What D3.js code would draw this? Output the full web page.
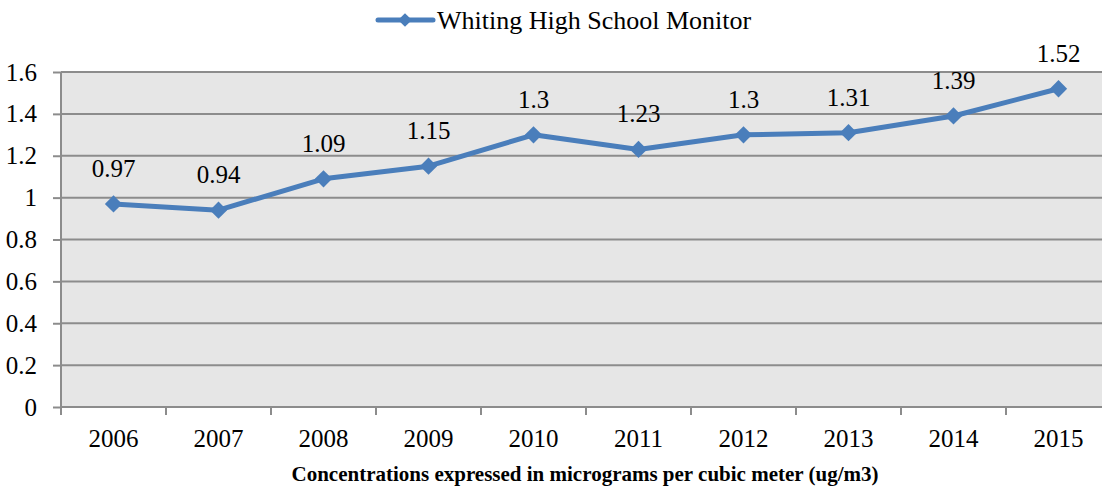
<!DOCTYPE html>
<html>
<head>
<meta charset="utf-8">
<script src="https://cdn.jsdelivr.net/npm/d3@7"></script>
<style>
  body { margin: 0; background: #ffffff; overflow: hidden; }
  text { font-family: "Liberation Serif", "Times New Roman", serif; fill: #000; }
</style>
</head>
<body>
<div id="chart"></div>
<script>
const years = ['2006', '2007', '2008', '2009', '2010', '2011', '2012', '2013', '2014', '2015'];
const values = [0.97, 0.94, 1.09, 1.15, 1.3, 1.23, 1.3, 1.31, 1.39, 1.52];
const yTicks = [0, 0.2, 0.4, 0.6, 0.8, 1, 1.2, 1.4, 1.6];
const seriesName = 'Whiting High School Monitor';
const xTitle = 'Concentrations expressed in micrograms per cubic meter (ug/m3)';

const W = 1102, H = 488;
// plot runs slightly past the right edge, as in the original
const margin = { top: 72, right: -9, bottom: 81, left: 61 };
const width = W - margin.left - margin.right;
const height = H - margin.top - margin.bottom;
const blue = '#4a7ebb';
const gridColor = '#8c8c8c';
const serif = '"Liberation Serif", "Times New Roman", serif';

const svg = d3.select('#chart').append('svg')
  .attr('width', W)
  .attr('height', H);

const g = svg.append('g')
  .attr('transform', 'translate(' + margin.left + ',' + margin.top + ')');

const x = d3.scaleBand().domain(years).range([0, width]);
const y = d3.scaleLinear().domain([0, 1.6]).range([height, 0]);

// plot background
g.append('rect')
  .attr('width', width)
  .attr('height', height)
  .attr('fill', '#e6e6e6');

// gridlines
g.selectAll('.grid')
  .data(yTicks.filter(d => d > 0))
  .enter()
  .append('line')
    .attr('x1', 0)
    .attr('x2', width)
    .attr('y1', d => y(d))
    .attr('y2', d => y(d))
    .attr('stroke', gridColor)
    .attr('stroke-width', 2);

// y axis
const yAxis = g.append('g')
  .call(d3.axisLeft(y).tickValues(yTicks).tickSize(8).tickPadding(16).tickFormat(d => String(d)));
yAxis.select('.domain').attr('stroke', gridColor).attr('stroke-width', 2).attr('d', 'M0,0V' + height);
yAxis.selectAll('.tick line').attr('stroke', gridColor).attr('stroke-width', 2);
yAxis.selectAll('.tick text')
  .style('font-family', serif)
  .style('font-size', '25px')
  .attr('fill', '#000');

// x axis
const xAxis = g.append('g')
  .attr('transform', 'translate(0,' + height + ')')
  .call(d3.axisBottom(x).tickSize(0).tickPadding(22));
xAxis.select('.domain').attr('stroke', gridColor).attr('stroke-width', 2).attr('d', 'M0,0H' + width);
xAxis.selectAll('.tick text')
  .style('font-family', serif)
  .style('font-size', '25px')
  .attr('fill', '#000');

// category boundary ticks
g.selectAll('.xtick')
  .data(years.concat(['end']))
  .enter()
  .append('line')
    .attr('x1', (d, i) => i * x.step())
    .attr('x2', (d, i) => i * x.step())
    .attr('y1', height)
    .attr('y2', height + 8)
    .attr('stroke', gridColor)
    .attr('stroke-width', 2);

// series line
const cx = d => x(d) + x.bandwidth() / 2;
const line = d3.line()
  .x((d, i) => cx(years[i]))
  .y(d => y(d));

g.append('path')
  .datum(values)
  .attr('fill', 'none')
  .attr('stroke', blue)
  .attr('stroke-width', 5)
  .attr('stroke-linejoin', 'round')
  .attr('d', line);

// markers
const diamond = d3.symbol().type(d3.symbolDiamond2).size(190);
g.selectAll('.marker')
  .data(values)
  .enter()
  .append('path')
    .attr('d', diamond)
    .attr('transform', (d, i) => 'translate(' + cx(years[i]) + ',' + y(d) + ')')
    .attr('fill', blue);

// data labels
g.selectAll('.label')
  .data(values)
  .enter()
  .append('text')
    .attr('x', (d, i) => cx(years[i]))
    .attr('y', d => y(d) - 27)
    .attr('text-anchor', 'middle')
    .style('font-size', '25px')
    .text(d => String(d));

// x axis title
svg.append('text')
  .attr('x', 585)
  .attr('y', 481)
  .attr('text-anchor', 'middle')
  .style('font-size', '21px')
  .style('font-weight', 'bold')
  .text(xTitle);

// legend
const legend = svg.append('g').attr('transform', 'translate(378,20)');
legend.append('line')
  .attr('x1', 0).attr('x2', 55)
  .attr('y1', 0).attr('y2', 0)
  .attr('stroke', blue)
  .attr('stroke-width', 5)
  .attr('stroke-linecap', 'round');
legend.append('path')
  .attr('d', d3.symbol().type(d3.symbolDiamond2).size(120))
  .attr('transform', 'translate(27,0)')
  .attr('fill', blue);
legend.append('text')
  .attr('x', 59)
  .attr('y', 9)
  .style('font-size', '26px')
  .text(seriesName);
</script>
</body>
</html>
